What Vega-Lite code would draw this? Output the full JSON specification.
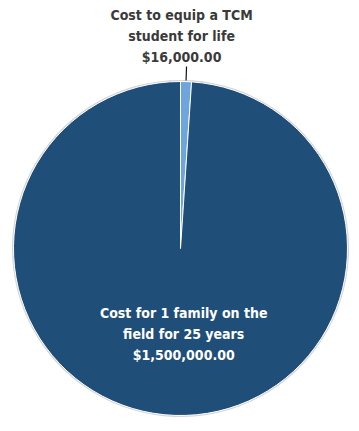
{
  "$schema": "https://vega.github.io/schema/vega-lite/v6.json",
  "autosize": "none",
  "width": 359,
  "height": 365,
  "padding": {"left": 1, "top": 66, "right": 0, "bottom": 0},
  "background": "white",
  "config": {"view": {"stroke": null}},
  "data": {
    "values": [
      {"item": "Cost to equip a TCM student for life", "value": 16000, "label": "Cost to equip a TCM\nstudent for life\n$16,000.00"},
      {"item": "Cost for 1 family on the field for 25 years", "value": 1500000, "label": "Cost for 1 family on the\nfield for 25 years\n$1,500,000.00"}
    ]
  },
  "encoding": {
    "theta": {"field": "value", "type": "quantitative", "stack": true},
    "order": {"field": "value", "sort": "ascending"}
  },
  "layer": [
    {
      "mark": {"type": "arc", "outerRadius": 168.5, "fill": "#d4d4d4", "stroke": null}
    },
    {
      "mark": {"type": "arc", "outerRadius": 167, "stroke": "white", "strokeWidth": 1},
      "encoding": {
        "color": {
          "field": "item",
          "type": "nominal",
          "scale": {"domain": ["Cost to equip a TCM student for life", "Cost for 1 family on the field for 25 years"], "range": ["#6ea5dc", "#1f4e79"]},
          "legend": null
        }
      }
    },
    {
      "mark": {"type": "arc", "innerRadius": 168, "outerRadius": 182, "padAngle": 0.12, "fill": null, "strokeWidth": 1.2},
      "encoding": {
        "stroke": {"condition": {"test": "datum.value < 100000", "value": "#111111"}, "value": null}
      }
    },
    {
      "mark": {"type": "text", "radius": 213, "dx": -6, "dy": -20, "font": "DejaVu Sans Condensed", "fontWeight": "bold", "fontSize": 14, "lineHeight": 21, "lineBreak": "\n", "align": "center", "baseline": "middle", "color": "#3a3a3a"},
      "encoding": {
        "text": {"condition": {"test": "datum.value < 100000", "field": "label"}, "value": ""}
      }
    },
    {
      "mark": {"type": "text", "radius": 84, "dx": 6, "dy": -18, "font": "DejaVu Sans Condensed", "fontWeight": "bold", "fontSize": 14, "lineHeight": 21, "lineBreak": "\n", "align": "center", "baseline": "middle", "color": "white"},
      "encoding": {
        "text": {"condition": {"test": "datum.value >= 100000", "field": "label"}, "value": ""}
      }
    }
  ]
}
